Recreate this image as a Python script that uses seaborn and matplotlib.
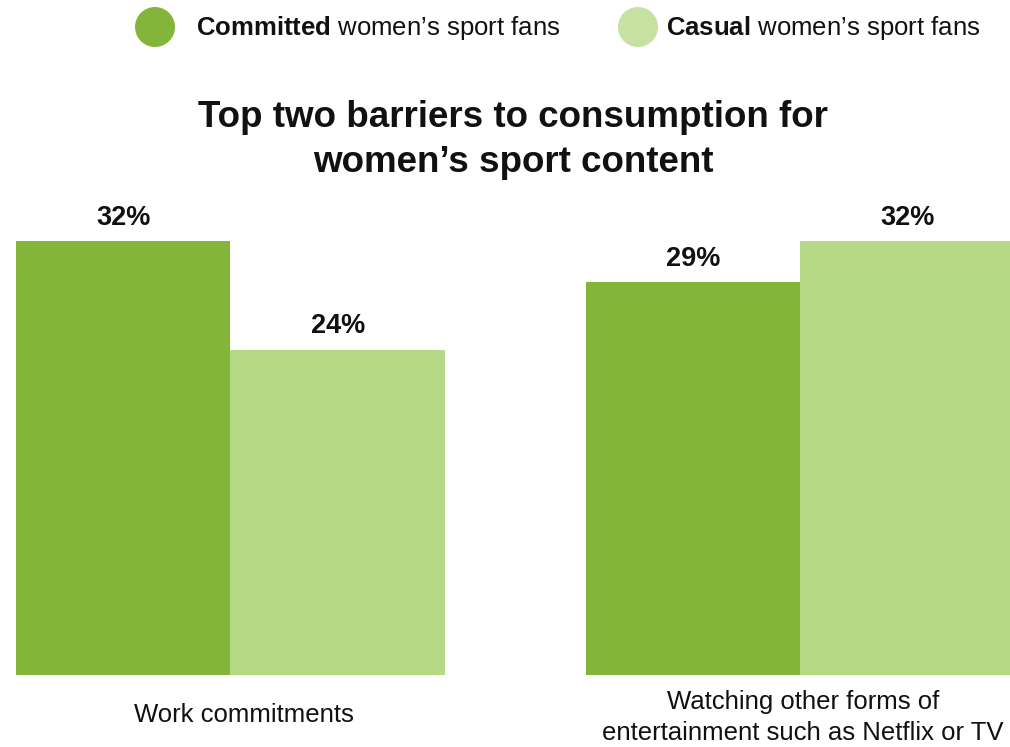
import matplotlib
matplotlib.use("Agg")
import matplotlib.pyplot as plt
import seaborn as sns
import pandas as pd
from matplotlib.patches import Ellipse

# Data
barriers = ["Work commitments",
            "Watching other forms of\nentertainment such as Netflix or TV"]
fan_groups = ["Committed", "Casual"]
committed_pct = [32, 29]
casual_pct = [24, 32]

# Styling
bar_colors = ["#84B53B", "#B6D985"]
legend_dot_colors = ["#84B53B", "#C6E1A2"]
text_color = "#111111"

sns.set_theme(style="white")
plt.rcParams["font.family"] = ["Liberation Sans", "DejaVu Sans"]
plt.rcParams["mathtext.fontset"] = "custom"
plt.rcParams["mathtext.rm"] = "Liberation Sans"
plt.rcParams["mathtext.bf"] = "Liberation Sans:bold"

df = pd.DataFrame({
    "barrier": barriers * 2,
    "group": [fan_groups[0]] * len(barriers) + [fan_groups[1]] * len(barriers),
    "pct": committed_pct + casual_pct,
})

W, H = 1010, 747
fig = plt.figure(figsize=(W / 100, H / 100), dpi=100)
ax = fig.add_axes([16 / W, 72 / H, 994 / W, 542 / H])

sns.barplot(data=df, x="barrier", y="pct", hue="group",
            order=barriers, hue_order=fan_groups, palette=bar_colors,
            width=0.7526, gap=0, saturation=1, linewidth=0,
            legend=False, ax=ax)
ax.set_xlim(-0.3763, 1.3676)
ax.set_ylim(0, 40)

for cont in ax.containers:
    ax.bar_label(cont, labels=[f"{v:.0f}%" for v in cont.datavalues],
                 padding=7.5, fontsize=19.5, fontweight="bold", color=text_color)

ax.set_xticks([])
ax.set_yticks([])
ax.set_xlabel("")
ax.set_ylabel("")
sns.despine(ax=ax, left=True, bottom=True)

# Category labels under each group
label_dx = [10, 1.8]
label_dy = [-28.5, -30.5]
for i, name in enumerate(barriers):
    ax.annotate(name, xy=(i, 0), xycoords="data",
                xytext=(label_dx[i], label_dy[i]), textcoords="offset points",
                ha="center", va="center", fontsize=18.5, color=text_color,
                linespacing=1.38, annotation_clip=False)

# Title
fig.text(513 / W, 1 - 140 / H,
         "Top two barriers to consumption for\nwomen’s sport content",
         ha="center", va="center", fontsize=26.5, fontweight="bold",
         color=text_color, linespacing=1.38)

# Legend with round markers
legend_items = [(155, 196), (638, 666)]
for (cx, tx), grp, col in zip(legend_items, fan_groups, legend_dot_colors):
    fig.add_artist(Ellipse((cx / W, 1 - 27 / H), 40 / W, 40 / H,
                           transform=fig.transFigure, color=col, lw=0))
    fig.text(tx / W, 1 - 28.5 / H, r"$\bf{" + grp + "}$ women’s sport fans",
             ha="left", va="center", fontsize=18.5, color=text_color)

fig.savefig("out.png", dpi=100, facecolor="white")
